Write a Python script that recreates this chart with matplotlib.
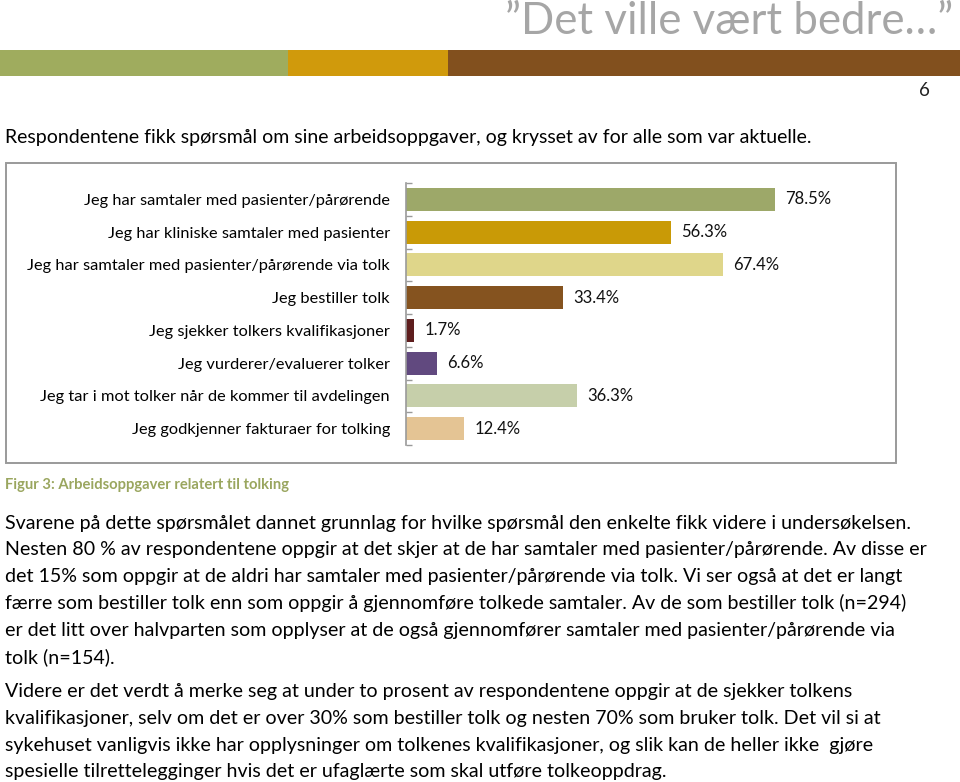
"""Slide 6: task chart ("Det ville vært bedre...") rebuilt with matplotlib.

Writes out.png
"""

import matplotlib

matplotlib.use("Agg")
import matplotlib.pyplot as plt
from matplotlib.patches import Rectangle

plt.rcParams["font.family"] = ["Lato", "DejaVu Sans"]

categories = [
    "Jeg har samtaler med pasienter/pårørende",
    "Jeg har kliniske samtaler med pasienter",
    "Jeg har samtaler med pasienter/pårørende via tolk",
    "Jeg bestiller tolk",
    "Jeg sjekker tolkers kvalifikasjoner",
    "Jeg vurderer/evaluerer tolker",
    "Jeg tar i mot tolker når de kommer til avdelingen",
    "Jeg godkjenner fakturaer for tolking",
]
values = [78.5, 56.3, 67.4, 33.4, 1.7, 6.6, 36.3, 12.4]
bar_colors = ["#9da869", "#c99a06", "#dfd68a", "#85531f",
              "#5e1e1e", "#61497f", "#c6cfaa", "#e4c494"]

title = "\u201dDet ville vært bedre\u2026\u201d"
page_no = "6"
intro = ("Respondentene fikk spørsmål om sine arbeidsoppgaver, "
         "og krysset av for alle som var aktuelle.")
caption = "Figur 3: Arbeidsoppgaver relatert til tolking"
para1 = [
    "Svarene på dette spørsmålet dannet grunnlag for hvilke spørsmål den enkelte fikk videre i undersøkelsen.",
    "Nesten 80 % av respondentene oppgir at det skjer at de har samtaler med pasienter/pårørende. Av disse er",
    "det 15% som oppgir at de aldri har samtaler med pasienter/pårørende via tolk. Vi ser også at det er langt",
    "færre som bestiller tolk enn som oppgir å gjennomføre tolkede samtaler. Av de som bestiller tolk (n=294)",
    "er det litt over halvparten som opplyser at de også gjennomfører samtaler med pasienter/pårørende via",
    "tolk (n=154).",
]
para2 = [
    "Videre er det verdt å merke seg at under to prosent av respondentene oppgir at de sjekker tolkens",
    "kvalifikasjoner, selv om det er over 30% som bestiller tolk og nesten 70% som bruker tolk. Det vil si at",
    "sykehuset vanligvis ikke har opplysninger om tolkenes kvalifikasjoner, og slik kan de heller ikke  gjøre",
    "spesielle tilrettelegginger hvis det er ufaglærte som skal utføre tolkeoppdrag.",
]

W, H = 960, 782


def fx(px):
    return px / W


def fy(py):
    return 1 - py / H


def main():
    fig = plt.figure(figsize=(W / 100, H / 100), dpi=100, facecolor="white")

    # header band
    for x0, x1, c in [(0, 288, "#9fac5e"), (288, 448, "#d09a0c"), (448, 960, "#82501e")]:
        fig.patches.append(Rectangle((fx(x0), fy(76)), fx(x1 - x0), 26 / H,
                                     transform=fig.transFigure, color=c, lw=0))
    fig.text(fx(953), fy(21), title, ha="right", va="center",
             fontsize=31.5, color="#a6a6a6")
    fig.text(fx(930), fy(90), page_no, ha="right", va="center", fontsize=13.5, color="#222222")
    fig.text(fx(5), fy(137), intro, ha="left", va="center", fontsize=14, color="black")

    # chart frame
    fig.patches.append(Rectangle((fx(6), fy(463)), fx(890), 300 / H,
                                 transform=fig.transFigure, fill=False,
                                 ec="#9a9a9a", lw=1.4))

    ax = fig.add_axes([fx(406), fy(445), fx(470), (445 - 183) / H])
    y = list(range(len(categories)))
    ax.barh(y, values, height=0.7, color=bar_colors)
    for yi, v in zip(y, values):
        ax.annotate(f"{v:.1f}%", (v, yi), xytext=(7.5, 0), textcoords="offset points",
                    ha="left", va="center", fontsize=12, color="#111111")
    ax.set_xlim(0, 100)
    ax.set_ylim(len(categories) - 0.5, -0.5)
    ax.set_yticks(y)
    ax.set_yticklabels(categories, fontsize=11.8)
    ax.set_yticks([i - 0.5 for i in range(len(categories) + 1)], minor=True)
    ax.tick_params(axis="y", which="major", length=0, pad=11.5)
    ax.tick_params(axis="y", which="minor", length=4.5, direction="in",
                   color="#9a9a9a", width=1)
    ax.set_xticks([])
    for s in ("top", "right", "bottom"):
        ax.spines[s].set_visible(False)
    ax.spines["left"].set_color("#9a9a9a")
    ax.spines["left"].set_linewidth(1.2)

    fig.text(fx(5), fy(485), caption, ha="left", va="center", fontsize=10.6,
             color="#9aa65f", fontweight="bold")

    for i, line in enumerate(para1):
        fig.text(fx(5), fy(523 + i * 26.8), line, ha="left", va="center",
                 fontsize=14.1, color="black")
    for i, line in enumerate(para2):
        fig.text(fx(5), fy(692 + i * 26.5), line, ha="left", va="center",
                 fontsize=14.1, color="black")

    fig.savefig("out.png", dpi=100, facecolor="white")


if __name__ == "__main__":
    main()
